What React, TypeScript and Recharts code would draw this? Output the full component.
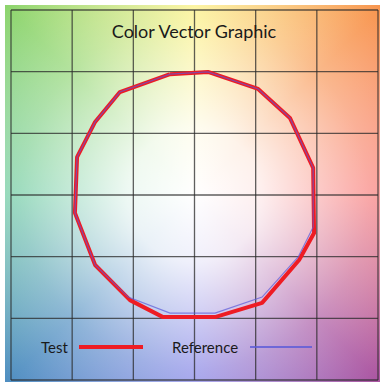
import React from 'react';
import { ScatterChart, Scatter, XAxis, YAxis, CartesianGrid, Legend } from 'recharts';

// a*/b* style coordinates (one grid cell = 20)
const testA = [-8.0, 4.4, 20.8, 31.2, 38.8, 39.1, 34.2, 22.1, 6.7, -10.3, -21.1, -32.5, -39.1, -38.4, -32.5, -24.4];
const testB = [39.2, 39.9, 34.4, 25.0, 8.8, -12.3, -21.1, -35.0, -39.6, -39.6, -34.1, -22.7, -5.8, 12.3, 23.7, 33.4];
const refA = [-8.0, 4.4, 20.8, 31.2, 38.8, 38.8, 33.9, 22.1, 6.7, -8.0, -21.7, -32.5, -39.1, -38.4, -32.5, -24.4];
const refB = [39.2, 39.9, 34.4, 25.0, 8.8, -10.4, -20.1, -33.1, -38.3, -38.3, -33.1, -22.7, -5.8, 12.3, 23.7, 33.4];
const gridTicks = [-60, -40, -20, 0, 20, 40, 60];
const seriesNames = ['Test', 'Reference'];
const seriesColors = ['#ee1c24', '#5a5ad8'];

const closed = (xs: number[], ys: number[]) => {
    const pts = xs.map((a, i) => ({ a, b: ys[i] }));
    return [...pts, pts[0]];
};

const testData = closed(testA, testB);
const refData = closed(refA, refB);

const font = 'Lato, "Noto Sans", sans-serif';

const LegendBox = () => (
    <div style={{ position: 'relative', width: 380, height: 24, fontFamily: font, fontSize: 15, color: '#1a1a1a' }}>
        <span style={{ position: 'absolute', left: 41, top: 3 }}>{seriesNames[0]}</span>
        <span style={{ position: 'absolute', left: 79, top: 10, width: 64, height: 4, background: seriesColors[0] }} />
        <span style={{ position: 'absolute', left: 172, top: 3 }}>{seriesNames[1]}</span>
        <span style={{ position: 'absolute', left: 250, top: 11, width: 62, height: 1.5, background: seriesColors[1], opacity: 0.8 }} />
    </div>
);

const NoDot = () => <g />;

export default function App() {
    return (
        <div style={{ position: 'absolute', left: 0, top: 0, width: 380, height: 382, background: '#fff' }}>
            <div
                style={{
                    position: 'absolute',
                    left: 5,
                    top: 5,
                    width: 375,
                    height: 377,
                    background:
                        'radial-gradient(circle farthest-corner at 189.5px 190px, rgba(255,255,255,1) 0%, rgba(255,255,255,0.88) 25%, rgba(255,255,255,0.35) 65%, rgba(255,255,255,0) 100%), ' +
                        'conic-gradient(from 0deg at 189.5px 190px, #fbf07e 0deg, #f8934c 45deg, #f87a78 90deg, #a8509e 135deg, #8282e6 180deg, #4c8cc0 225deg, #6ccaa0 270deg, #8cd46c 315deg, #fbf07e 360deg)',
                }}
            />
            <ScatterChart
                width={380}
                height={382}
                margin={{ top: 10, right: 2, bottom: 2, left: 11 }}
                style={{ position: 'absolute', left: 0, top: 0 }}
            >
                <CartesianGrid stroke="#2a2a2a" strokeOpacity={0.75} strokeWidth={1.3} />
                <XAxis type="number" dataKey="a" domain={[-60, 60]} ticks={gridTicks} hide allowDataOverflow />
                <YAxis type="number" dataKey="b" domain={[-60, 60]} ticks={gridTicks} hide allowDataOverflow />
                <Legend
                    layout="horizontal"
                    verticalAlign="middle"
                    align="center"
                    content={() => <LegendBox />}
                    wrapperStyle={{ left: 0, top: 335, width: 380 }}
                />
                <Scatter
                    name={seriesNames[0]}
                    data={testData}
                    line={{ stroke: seriesColors[0], strokeWidth: 4, strokeLinejoin: 'round' }}
                    shape={NoDot}
                    isAnimationActive={false}
                />
                <Scatter
                    name={seriesNames[1]}
                    data={refData}
                    line={{ stroke: seriesColors[1], strokeWidth: 1.2, strokeOpacity: 0.7 }}
                    shape={NoDot}
                    isAnimationActive={false}
                />
            </ScatterChart>
            <div
                style={{
                    position: 'absolute',
                    left: 0,
                    top: 20,
                    width: 388,
                    textAlign: 'center',
                    fontFamily: font,
                    fontSize: 18,
                    color: '#1a1a1a',
                }}
            >
                Color Vector Graphic
            </div>
        </div>
    );
}
